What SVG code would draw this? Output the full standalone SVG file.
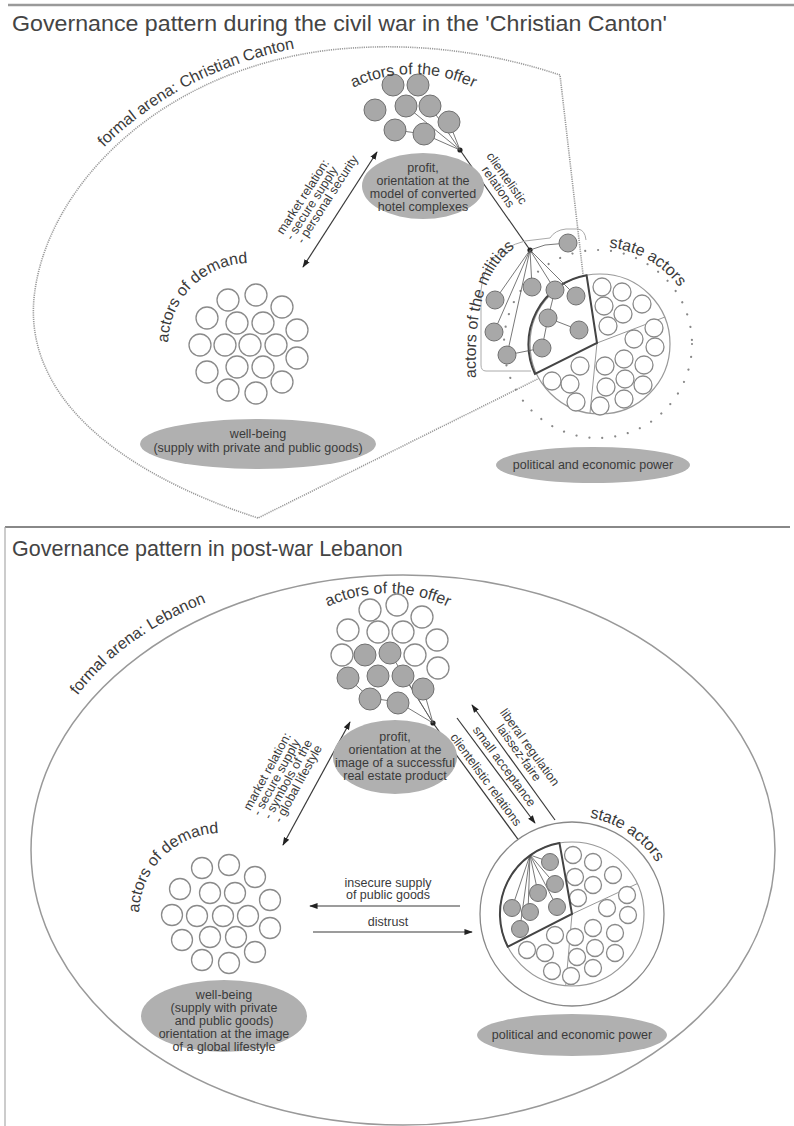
<svg xmlns="http://www.w3.org/2000/svg" width="794" height="1126" viewBox="0 0 794 1126">
<style>
.t{font-family:"Liberation Sans",Arial,sans-serif;fill:#3a3a3a}
.ti{font-size:21.5px;fill:#444}
.cv{font-size:16px}
.lb{font-size:12.5px}
.el{font-size:12.5px;text-anchor:middle}
.gc{fill:#a8a8a8;stroke:#707070;stroke-width:1}
.wc{fill:#fff;stroke:#8a8a8a;stroke-width:1.3}
.ell{fill:#b0b0b0}
.ln{stroke:#3a3a3a;stroke-width:1.2;fill:none}
.fan{stroke:#555;stroke-width:0.8;fill:none}
.sec{stroke:#999;stroke-width:1;fill:none}
.dk{stroke:#444;stroke-width:2;fill:none}
.arena{stroke:#9a9a9a;stroke-width:1.6;fill:none;stroke-dasharray:1.2 1}
.dots{stroke:#888;stroke-width:2.2;fill:none;stroke-dasharray:0.01 13;stroke-linecap:round}
</style>
<defs>
<marker id="ah" viewBox="0 0 10 10" refX="9" refY="5" markerWidth="7" markerHeight="7" orient="auto-start-reverse"><path d="M0,1.5 L10,5 L0,8.5 z" fill="#222"/></marker>
<path id="pArena1" d="M 29,288 C 44,180 156,63 330,43"/>
<path id="pOffer1" d="M 345,92 A 140 140 0 0 1 482,92"/>
<path id="pDem1" d="M 168,345 A 82 82 0 0 1 250,263"/>
<path id="pMil" d="M 476,380 C 474,320 480,260 529,240"/>
<path id="pState1" d="M 574.6,250 A 100 100 0 0 1 694.7,318"/>
<path id="pArena2" d="M 66,712 Q 118,630 235,592"/>
<path id="pOffer2" d="M 318,612 A 140 140 0 0 1 458,612"/>
<path id="pDem2" d="M 139,915 A 82 82 0 0 1 221,833"/>
<path id="pState2" d="M 546.6,819.3 A 100 100 0 0 1 668,888"/>
</defs>

<g id="frame">
<line x1="8" y1="5" x2="794" y2="5" stroke="#9a9a9a" stroke-width="2.5"/>
<line x1="5" y1="527" x2="790" y2="527" stroke="#888" stroke-width="1.8"/>
<line x1="5" y1="527" x2="5" y2="1126" stroke="#aaa" stroke-width="1.2"/>
</g>

<!-- ================= TOP PANEL ================= -->
<text id="title1" class="t ti" x="12" y="31" textLength="655" lengthAdjust="spacingAndGlyphs">Governance pattern during the civil war in the 'Christian Canton'</text>

<g id="arena1">
<path class="arena" d="M 258,518 C 110,470 20,390 35,290 C 50,185 160,70 330,50 C 420,40 500,55 560,75 L 592,352 Z"/>
<text class="t cv"><textPath href="#pArena1" startOffset="162">formal arena: Christian Canton</textPath></text>
</g>

<g id="connectors1">
<line class="ln" x1="303" y1="267" x2="377" y2="152" marker-start="url(#ah)" marker-end="url(#ah)"/>
<line class="ln" x1="460" y1="150" x2="530" y2="250"/>
<circle cx="460" cy="150" r="2.6" fill="#222"/>
<circle cx="530" cy="250" r="2.6" fill="#222"/>
<g transform="translate(303,267) rotate(-57.2)">
<text class="t lb" x="16" y="-34">market relation:</text>
<text class="t lb" x="16" y="-23">- secure supply</text>
<text class="t lb" x="19" y="-12">- personal security</text>
</g>
<g transform="translate(460,150) rotate(55)">
<text class="t lb" x="50" y="-18" text-anchor="middle">clientelistic</text>
<text class="t lb" x="52" y="-6" text-anchor="middle">relations</text>
</g>
</g>

<g id="offer1">
<g class="fan">
<line x1="460" y1="150" x2="406" y2="106"/>
<line x1="460" y1="150" x2="430" y2="106"/>
<line x1="460" y1="150" x2="449" y2="122"/>
<line x1="460" y1="150" x2="424" y2="134"/>
<line x1="395" y1="130" x2="424" y2="134"/>
</g>
<circle class="gc" cx="393" cy="85" r="11"/>
<circle class="gc" cx="418" cy="85" r="11"/>
<circle class="gc" cx="375" cy="110" r="11"/>
<circle class="gc" cx="406" cy="106" r="11"/>
<circle class="gc" cx="430" cy="106" r="11"/>
<circle class="gc" cx="449" cy="122" r="11"/>
<circle class="gc" cx="395" cy="130" r="11"/>
<circle class="gc" cx="424" cy="134" r="11"/>
<text class="t cv" text-anchor="middle"><textPath href="#pOffer1" startOffset="50%">actors of the offer</textPath></text>
<ellipse class="ell" cx="423" cy="186" rx="61" ry="33"/>
<text class="t el" x="423" y="172">profit,</text>
<text class="t el" x="423" y="185">orientation at the</text>
<text class="t el" x="423" y="198">model of converted</text>
<text class="t el" x="423" y="211">hotel complexes</text>
</g>

<g id="demand1">
<text class="t cv" text-anchor="middle"><textPath href="#pDem1" startOffset="50%">actors of demand</textPath></text>
<circle class="wc" cx="228" cy="300" r="11"/>
<circle class="wc" cx="256" cy="295" r="11"/>
<circle class="wc" cx="282" cy="307" r="11"/>
<circle class="wc" cx="207" cy="318" r="11"/>
<circle class="wc" cx="237" cy="323" r="11"/>
<circle class="wc" cx="263" cy="323" r="11"/>
<circle class="wc" cx="297" cy="330" r="11"/>
<circle class="wc" cx="200" cy="345" r="11"/>
<circle class="wc" cx="225" cy="345" r="11"/>
<circle class="wc" cx="250" cy="345" r="11"/>
<circle class="wc" cx="276" cy="345" r="11"/>
<circle class="wc" cx="297" cy="358" r="11"/>
<circle class="wc" cx="207" cy="372" r="11"/>
<circle class="wc" cx="237" cy="367" r="11"/>
<circle class="wc" cx="263" cy="367" r="11"/>
<circle class="wc" cx="282" cy="382" r="11"/>
<circle class="wc" cx="228" cy="390" r="11"/>
<circle class="wc" cx="256" cy="393" r="11"/>
<ellipse class="ell" cx="258" cy="444" rx="118" ry="25"/>
<text class="t el" x="258" y="438">well-being</text>
<text class="t el" x="258" y="452">(supply with private and public goods)</text>
</g>

<g id="state1">
<circle class="dots" cx="598" cy="344" r="94"/>
<circle cx="600" cy="344" r="70" fill="#fff" stroke="#999" stroke-width="1.2"/>
<line class="sec" x1="597" y1="343" x2="665" y2="317"/>
<line class="sec" x1="597" y1="343" x2="590" y2="413"/>
<circle class="wc" cx="602" cy="287" r="9"/>
<circle class="wc" cx="622" cy="292" r="9"/>
<circle class="wc" cx="604" cy="306" r="9"/>
<circle class="wc" cx="623" cy="314" r="9"/>
<circle class="wc" cx="642" cy="304" r="9"/>
<circle class="wc" cx="608" cy="326" r="9"/>
<circle class="wc" cx="634" cy="339" r="9"/>
<circle class="wc" cx="654" cy="328" r="9"/>
<circle class="wc" cx="655" cy="347" r="9"/>
<circle class="wc" cx="580" cy="366" r="9"/>
<circle class="wc" cx="552" cy="381" r="9"/>
<circle class="wc" cx="570" cy="384" r="9"/>
<circle class="wc" cx="576" cy="402" r="9"/>
<circle class="wc" cx="600" cy="406" r="9"/>
<circle class="wc" cx="605" cy="366" r="9"/>
<circle class="wc" cx="624" cy="359" r="9"/>
<circle class="wc" cx="644" cy="365" r="9"/>
<circle class="wc" cx="606" cy="387" r="9"/>
<circle class="wc" cx="625" cy="379" r="9"/>
<circle class="wc" cx="624" cy="399" r="9"/>
<circle class="wc" cx="643" cy="385" r="9"/>
<path class="dk" d="M 597,343 L 586.6,275.3 A 70 70 0 0 0 535,374 Z"/>
<text class="t cv" font-size="17" text-anchor="middle"><textPath href="#pState1" startOffset="50%">state actors</textPath></text>
<ellipse class="ell" cx="593" cy="465" rx="97" ry="18"/>
<text class="t el" x="593" y="469">political and economic power</text>
</g>

<g id="militias1">
<path d="M 531,371 L 486,371 Q 481,371 481,365 L 481,290 Q 484,252 525,241 L 550,238 Q 555,230 566,229 L 578,229 Q 585,230 586,240" fill="none" stroke="#aaa" stroke-width="1"/>
<g class="fan">
<line x1="530" y1="250" x2="495" y2="300"/>
<line x1="530" y1="250" x2="494" y2="332"/>
<line x1="530" y1="250" x2="507" y2="355"/>
<line x1="530" y1="250" x2="532" y2="287"/>
<line x1="530" y1="250" x2="555" y2="290"/>
<line x1="530" y1="250" x2="576" y2="296"/>
<polyline points="530,250 545,245 568,243"/>
<line x1="548" y1="318" x2="555" y2="290"/>
<line x1="548" y1="318" x2="579" y2="330"/>
<line x1="548" y1="318" x2="542" y2="348"/>
<line x1="542" y1="348" x2="507" y2="355"/>
</g>
<circle class="gc" cx="495" cy="300" r="9"/>
<circle class="gc" cx="532" cy="287" r="9"/>
<circle class="gc" cx="555" cy="290" r="9"/>
<circle class="gc" cx="576" cy="296" r="9"/>
<circle class="gc" cx="494" cy="332" r="9"/>
<circle class="gc" cx="548" cy="318" r="9"/>
<circle class="gc" cx="579" cy="330" r="9"/>
<circle class="gc" cx="507" cy="355" r="9"/>
<circle class="gc" cx="542" cy="348" r="9"/>
<circle class="gc" cx="568" cy="243" r="9"/>
<text class="t cv" font-size="15.5"><textPath href="#pMil" startOffset="2">actors of the militias</textPath></text>
</g>

<!-- ================= BOTTOM PANEL ================= -->
<text id="title2" class="t ti" x="12" y="556">Governance pattern in post-war Lebanon</text>

<g id="arena2">
<ellipse cx="403" cy="850" rx="372" ry="275" fill="none" stroke="#999" stroke-width="1.5"/>
<text class="t cv" font-size="15.5"><textPath href="#pArena2" startOffset="20">formal arena: Lebanon</textPath></text>
</g>

<g id="connectors2">
<line class="ln" x1="283" y1="845" x2="350" y2="722" marker-start="url(#ah)" marker-end="url(#ah)"/>
<g transform="translate(283,845) rotate(-61.4)">
<text class="t lb" x="14" y="-45">market relation:</text>
<text class="t lb" x="14" y="-34">- secure supply</text>
<text class="t lb" x="16" y="-23">- symbols of the</text>
<text class="t lb" x="18" y="-12">- global lifestyle</text>
</g>
<line class="ln" x1="433" y1="723" x2="528" y2="853" marker-end="url(#ah)"/>
<circle cx="433" cy="723" r="2.6" fill="#222"/>
<line class="ln" x1="457" y1="718" x2="535" y2="823" marker-end="url(#ah)"/>
<line class="ln" x1="472" y1="705" x2="555" y2="820" marker-start="url(#ah)"/>
<g transform="translate(472,705) rotate(54.2)">
<text class="t lb" x="68" y="-18" text-anchor="middle">liberal regulation</text>
<text class="t lb" x="66" y="-6" text-anchor="middle">laissez-faire</text>
</g>
<g transform="translate(457,718) rotate(53.4)">
<text class="t lb" x="67" y="-5" text-anchor="middle">small acceptance</text>
</g>
<g transform="translate(433,723) rotate(53.8)">
<text class="t lb" x="77" y="-5" text-anchor="middle">clientelistic relations</text>
</g>
<line class="ln" x1="460" y1="906" x2="310" y2="906" marker-end="url(#ah)"/>
<text class="t lb" x="388" y="887" text-anchor="middle">insecure supply</text>
<text class="t lb" x="388" y="899" text-anchor="middle">of public goods</text>
<line class="ln" x1="313" y1="932" x2="472" y2="932" marker-end="url(#ah)"/>
<text class="t lb" x="388" y="926" text-anchor="middle">distrust</text>
</g>

<g id="offer2">
<g class="fan">
<line x1="433" y1="723" x2="398" y2="702"/>
<line x1="433" y1="723" x2="423" y2="688"/>
<line x1="433" y1="723" x2="403" y2="675"/>
<line x1="433" y1="723" x2="390" y2="653"/>
<line x1="370" y1="698" x2="398" y2="702"/>
<line x1="348" y1="678" x2="370" y2="698"/>
</g>
<circle class="wc" cx="370" cy="610" r="11"/>
<circle class="wc" cx="397" cy="605" r="11"/>
<circle class="wc" cx="422" cy="617" r="11"/>
<circle class="wc" cx="348" cy="630" r="11"/>
<circle class="wc" cx="378" cy="632" r="11"/>
<circle class="wc" cx="403" cy="632" r="11"/>
<circle class="wc" cx="437" cy="640" r="11"/>
<circle class="wc" cx="342" cy="655" r="11"/>
<circle class="wc" cx="415" cy="655" r="11"/>
<circle class="wc" cx="438" cy="668" r="11"/>
<circle class="gc" cx="365" cy="655" r="11"/>
<circle class="gc" cx="390" cy="653" r="11"/>
<circle class="gc" cx="348" cy="678" r="11"/>
<circle class="gc" cx="378" cy="676" r="11"/>
<circle class="gc" cx="403" cy="676" r="11"/>
<circle class="gc" cx="423" cy="689" r="11"/>
<circle class="gc" cx="370" cy="699" r="11"/>
<circle class="gc" cx="398" cy="703" r="11"/>
<text class="t cv" text-anchor="middle"><textPath href="#pOffer2" startOffset="50%">actors of the offer</textPath></text>
<ellipse class="ell" cx="395" cy="757" rx="62" ry="37"/>
<text class="t el" x="395" y="741">profit,</text>
<text class="t el" x="395" y="754">orientation at the</text>
<text class="t el" x="395" y="767">image of a successful</text>
<text class="t el" x="395" y="780">real estate product</text>
</g>

<g id="demand2">
<text class="t cv" text-anchor="middle"><textPath href="#pDem2" startOffset="50%">actors of demand</textPath></text>
<circle class="wc" cx="202" cy="868" r="10.5"/>
<circle class="wc" cx="229" cy="865" r="10.5"/>
<circle class="wc" cx="255" cy="877" r="10.5"/>
<circle class="wc" cx="180" cy="889" r="10.5"/>
<circle class="wc" cx="210" cy="893" r="10.5"/>
<circle class="wc" cx="235" cy="893" r="10.5"/>
<circle class="wc" cx="270" cy="900" r="10.5"/>
<circle class="wc" cx="172" cy="915" r="10.5"/>
<circle class="wc" cx="197" cy="916" r="10.5"/>
<circle class="wc" cx="223" cy="916" r="10.5"/>
<circle class="wc" cx="248" cy="916" r="10.5"/>
<circle class="wc" cx="270" cy="928" r="10.5"/>
<circle class="wc" cx="182" cy="940" r="10.5"/>
<circle class="wc" cx="210" cy="937" r="10.5"/>
<circle class="wc" cx="236" cy="937" r="10.5"/>
<circle class="wc" cx="255" cy="952" r="10.5"/>
<circle class="wc" cx="202" cy="960" r="10.5"/>
<circle class="wc" cx="229" cy="963" r="10.5"/>
<ellipse class="ell" cx="224" cy="1016" rx="83" ry="36"/>
<text class="t el" x="224" y="999">well-being</text>
<text class="t el" x="224" y="1012">(supply with private</text>
<text class="t el" x="224" y="1025">and public goods)</text>
<text class="t el" x="224" y="1038">orientation at the image</text>
<text class="t el" x="224" y="1051">of a global lifestyle</text>
</g>

<g id="state2">
<circle cx="572" cy="914" r="92" fill="#fff" stroke="#888" stroke-width="1.3"/>
<circle cx="572" cy="914" r="72" fill="#fff" stroke="#999" stroke-width="1.2"/>
<line class="sec" x1="572" y1="914" x2="637.3" y2="883.6"/>
<line class="sec" x1="572" y1="914" x2="565.7" y2="985.7"/>
<circle class="wc" cx="573" cy="855" r="8.5"/>
<circle class="wc" cx="593" cy="862" r="8.5"/>
<circle class="wc" cx="575" cy="877" r="8.5"/>
<circle class="wc" cx="593" cy="885" r="8.5"/>
<circle class="wc" cx="613" cy="875" r="8.5"/>
<circle class="wc" cx="578" cy="898" r="8.5"/>
<circle class="wc" cx="627" cy="895" r="8.5"/>
<circle class="wc" cx="607" cy="908" r="8.5"/>
<circle class="wc" cx="628" cy="915" r="8.5"/>
<circle class="wc" cx="555" cy="935" r="8.5"/>
<circle class="wc" cx="527" cy="950" r="8.5"/>
<circle class="wc" cx="545" cy="953" r="8.5"/>
<circle class="wc" cx="552" cy="971" r="8.5"/>
<circle class="wc" cx="575" cy="937" r="8.5"/>
<circle class="wc" cx="593" cy="928" r="8.5"/>
<circle class="wc" cx="615" cy="933" r="8.5"/>
<circle class="wc" cx="577" cy="957" r="8.5"/>
<circle class="wc" cx="595" cy="948" r="8.5"/>
<circle class="wc" cx="615" cy="953" r="8.5"/>
<circle class="wc" cx="571" cy="976" r="8.5"/>
<circle class="wc" cx="593" cy="968" r="8.5"/>
<g class="fan">
<line x1="530" y1="855" x2="550" y2="862"/>
<line x1="530" y1="855" x2="555" y2="884"/>
<line x1="530" y1="855" x2="538" y2="893"/>
<line x1="530" y1="855" x2="512" y2="908"/>
<line x1="530" y1="855" x2="528" y2="912"/>
<line x1="530" y1="855" x2="557" y2="907"/>
<line x1="530" y1="855" x2="520" y2="928"/>
</g>
<circle class="gc" cx="550" cy="862" r="8.5"/>
<circle class="gc" cx="555" cy="884" r="8.5"/>
<circle class="gc" cx="538" cy="893" r="8.5"/>
<circle class="gc" cx="512" cy="908" r="8.5"/>
<circle class="gc" cx="530" cy="912" r="8.5"/>
<circle class="gc" cx="557" cy="907" r="8.5"/>
<circle class="gc" cx="520" cy="929" r="8.5"/>
<path class="dk" d="M 572,914 L 559.5,843.1 A 72 72 0 0 0 507.8,946.7 Z"/>
<text class="t cv" font-size="17" text-anchor="middle"><textPath href="#pState2" startOffset="55%">state actors</textPath></text>
<ellipse class="ell" cx="572" cy="1035" rx="95" ry="21"/>
<text class="t el" x="572" y="1039">political and economic power</text>
</g>
</svg>
